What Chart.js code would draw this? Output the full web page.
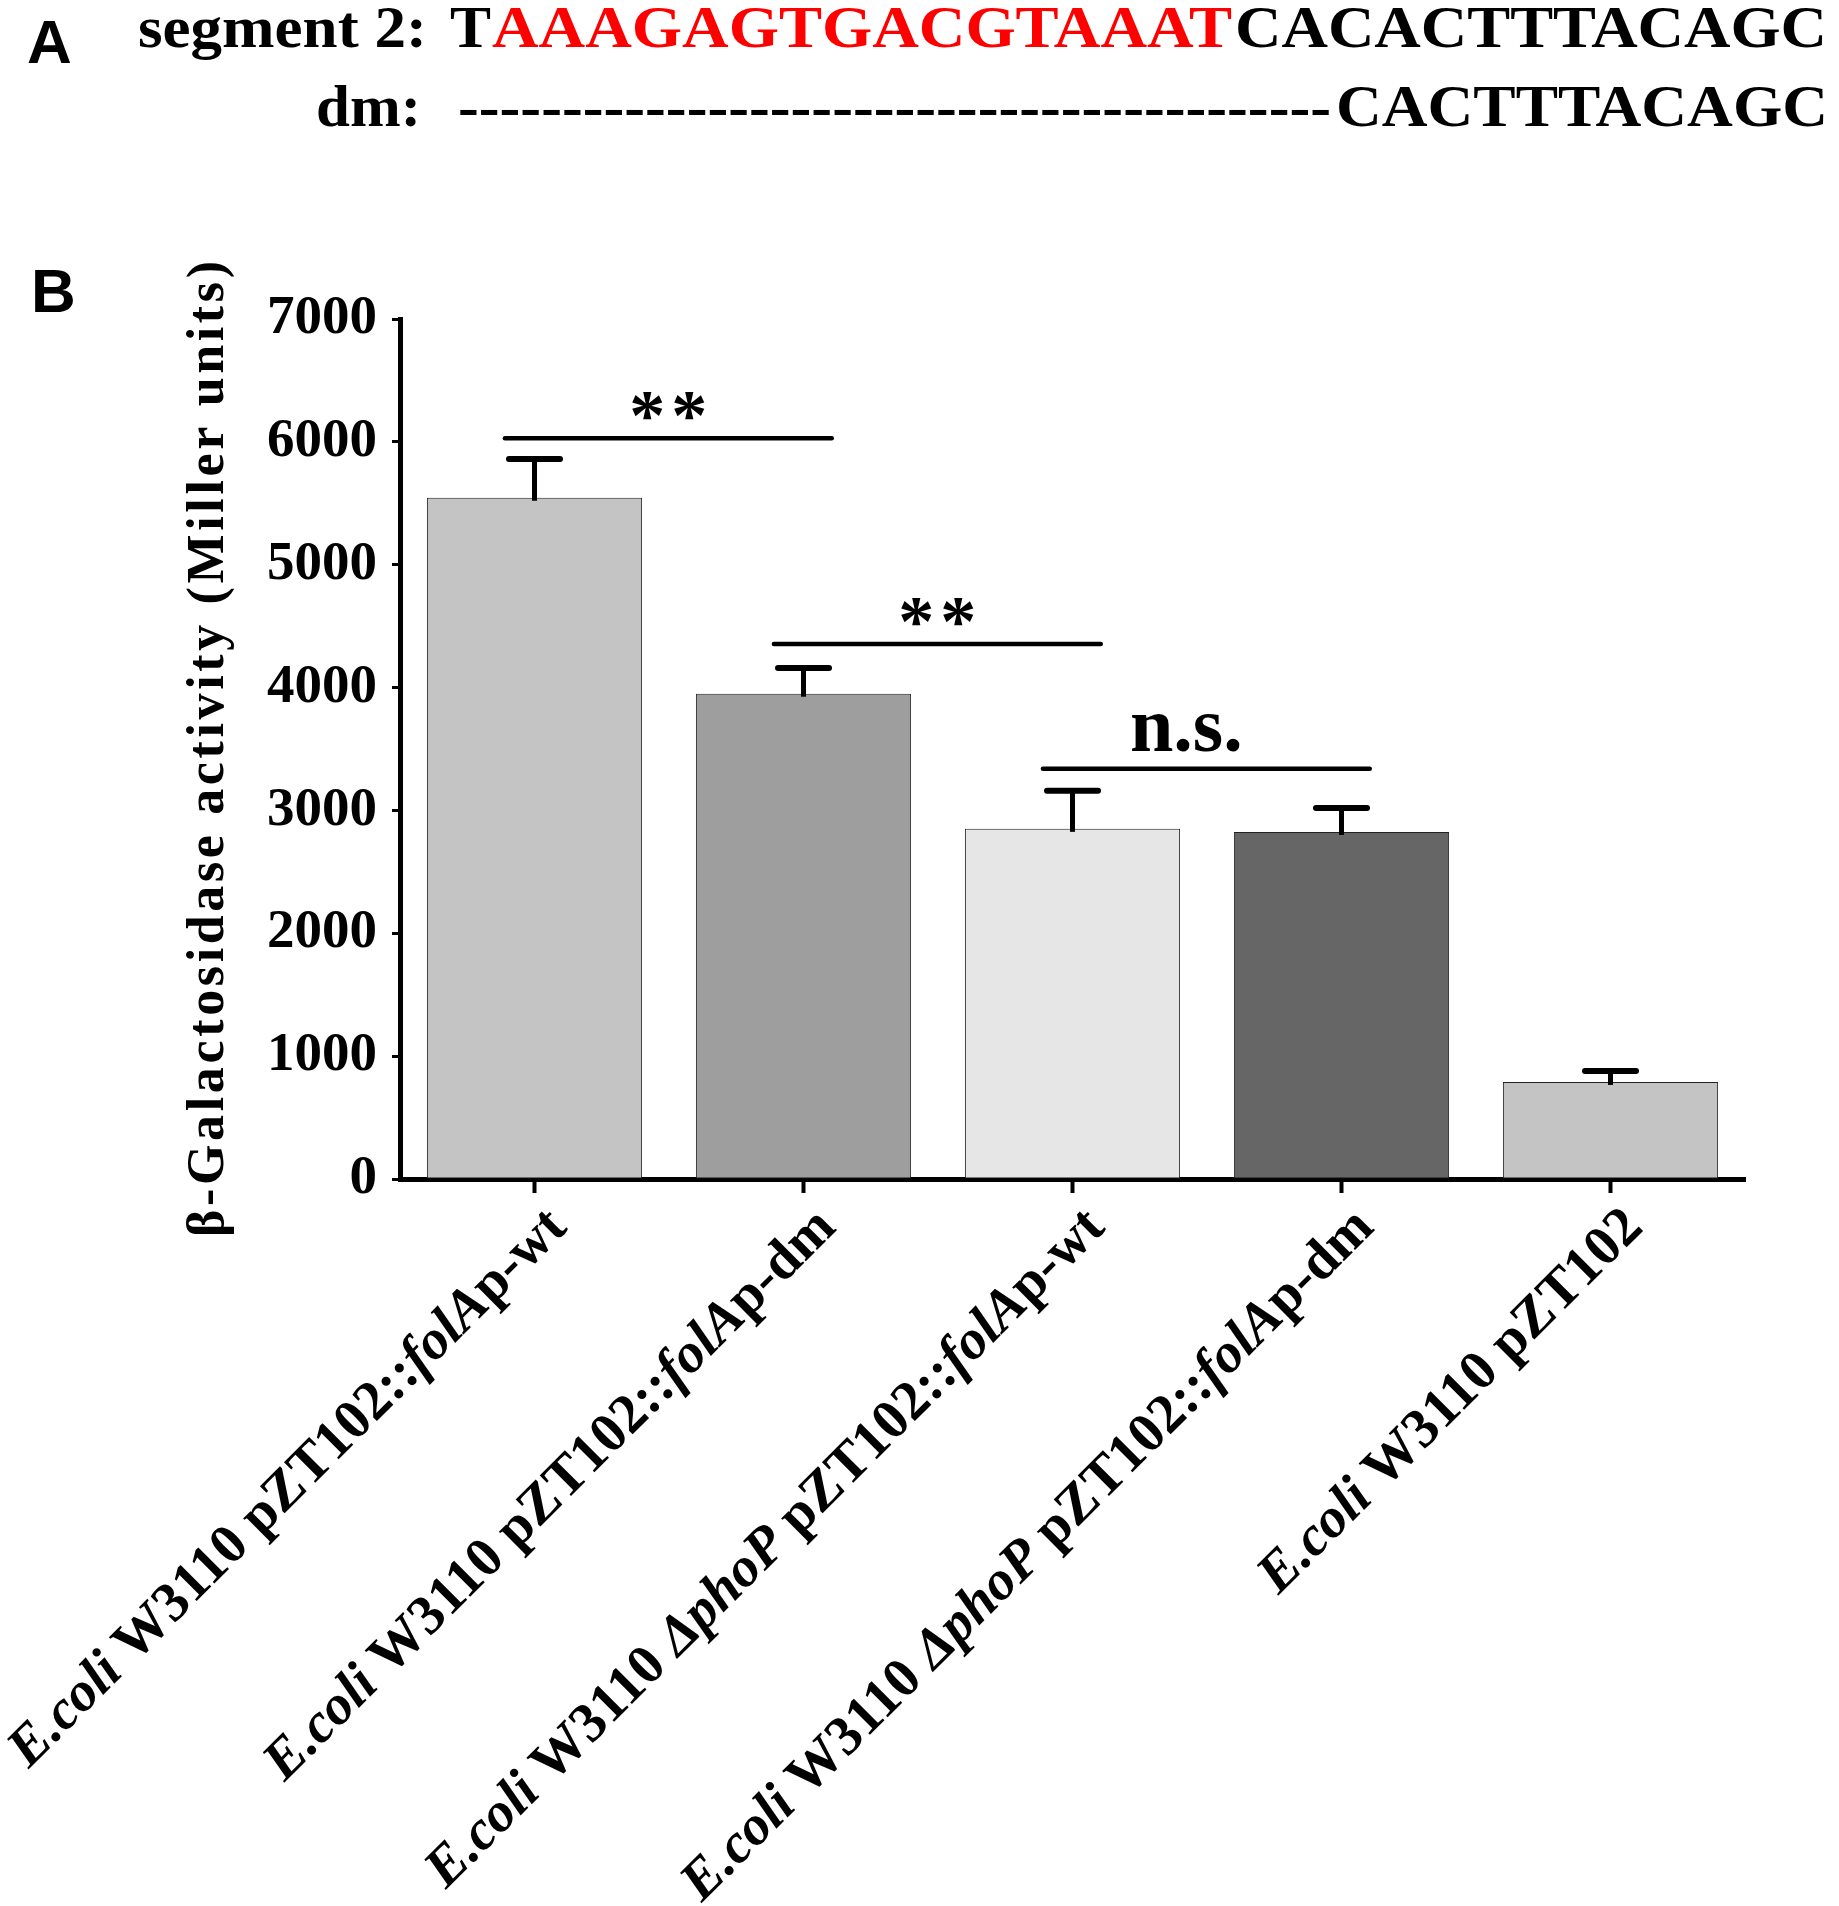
<!DOCTYPE html>
<html><head><meta charset="utf-8">
<script src="https://cdn.jsdelivr.net/npm/chart.js@4.4.1/dist/chart.umd.min.js"></script>
<style>
html,body{margin:0;padding:0;background:#fff;}
#wrap{position:relative;width:1839px;height:1906px;overflow:hidden;background:#fff;}
#c{position:absolute;left:0;top:0;}
.t{position:absolute;white-space:pre;font-family:"Liberation Serif","Times New Roman",serif;font-weight:bold;font-size:60px;line-height:60px;transform-origin:0 0;color:#000;}
.p{position:absolute;font-family:"Liberation Sans",Arial,sans-serif;font-weight:bold;font-size:62px;line-height:62px;color:#000;}
</style></head><body>
<div id="wrap">
<canvas id="c" width="1839" height="1906"></canvas>
<div class="p" style="left:27px;top:11px">A</div>
<div class="p" style="left:31px;top:260px">B</div>
</div>
<script>
// ---- data ----
const categories = [
  "E.coli W3110 pZT102::folAp-wt",
  "E.coli W3110 pZT102::folAp-dm",
  "E.coli W3110 ΔphoP pZT102::folAp-wt",
  "E.coli W3110 ΔphoP pZT102::folAp-dm",
  "E.coli W3110 pZT102"
];
const activity = [5545, 3950, 2850, 2825, 790];
const errorSEM = [315, 210, 310, 195, 90];
const barColors = ["#c4c4c4", "#9e9e9e", "#e6e6e6", "#666666", "#c4c4c4"];
const yMin = 0, yMax = 7000, yStep = 1000;
const comparisons = [[0, 1], [1, 2], [2, 3]];
const comparisonLabels = ["**", "**", "n.s."];
const comparisonLevels = [6030, 4355, 3340];
const italicWords = /(E\.coli|ΔphoP|folA)/;
const yTitle = "β-Galactosidase activity (Miller units)";
const seqLabelWT = "segment 2:";
const seqWT = ["T", "AAAGAGTGACGTAAAT", "CACACTTTACAGC"];
const seqLabelDM = "dm:";
const seqDM = ["-".repeat(42), "CACTTTACAGC"];

// ---- header (panel A) ----
const wrap = document.getElementById('wrap');
const headerPieces = [
  [seqLabelWT, 138, 427, 47, '#000'],
  [seqWT[0], 450, 491, 47, '#000'],
  [seqWT[1], 492, 1232, 47, '#ff0000'],
  [seqWT[2], 1235, 1827, 47, '#000'],
  [seqLabelDM, 316, 421, 126, '#000'],
  [seqDM[0], 458, 1331, 126, '#000'],
  [seqDM[1], 1336, 1828, 126, '#000']
];
const spans = headerPieces.map(p => {
  const s = document.createElement('span');
  s.className = 't';
  s.textContent = p[0];
  s.style.color = p[4];
  s.style.left = p[1] + 'px';
  s.style.top = (p[3] - 50.25) + 'px';
  wrap.appendChild(s);
  return s;
});
function fitHeader() {
  spans.forEach((s, i) => {
    s.style.transform = 'none';
    const w = s.getBoundingClientRect().width;
    const p = headerPieces[i];
    s.style.transform = 'scaleX(' + ((p[2] - p[1]) / w) + ')';
  });
}
fitHeader();

// ---- plugins ----
const SERIF = '"Liberation Serif", "Times New Roman", serif';
function splitStyled(label) {
  return label.split(italicWords).filter(t => t.length).map(t => ({t, it: italicWords.test(t)}));
}
const errorBars = {
  id: 'errorBars',
  afterDatasetsDraw(chart) {
    const ctx = chart.ctx, ys = chart.scales.y;
    const meta = chart.getDatasetMeta(0);
    ctx.save();
    ctx.strokeStyle = '#000';
    meta.data.forEach((bar, i) => {
      const x = bar.x;
      const y0 = ys.getPixelForValue(activity[i]);
      const y1 = ys.getPixelForValue(activity[i] + errorSEM[i]);
      ctx.lineWidth = 5; ctx.lineCap = 'butt';
      ctx.beginPath(); ctx.moveTo(x, y0 + 3); ctx.lineTo(x, y1); ctx.stroke();
      ctx.lineWidth = 6; ctx.lineCap = 'round';
      ctx.beginPath(); ctx.moveTo(x - 25.5, y1); ctx.lineTo(x + 25.5, y1); ctx.stroke();
    });
    ctx.restore();
  }
};
const brackets = {
  id: 'brackets',
  afterDatasetsDraw(chart) {
    const ctx = chart.ctx, xs = chart.scales.x, ys = chart.scales.y;
    const step = xs.getPixelForValue(1) - xs.getPixelForValue(0);
    ctx.save();
    ctx.strokeStyle = '#000'; ctx.fillStyle = '#000';
    comparisons.forEach((pair, k) => {
      const xa = xs.getPixelForValue(pair[0]) - 0.11 * step;
      const xb = xs.getPixelForValue(pair[1]) + 0.105 * step;
      const y = ys.getPixelForValue(comparisonLevels[k]);
      ctx.lineWidth = 4.5; ctx.lineCap = 'round';
      ctx.beginPath(); ctx.moveTo(xa, y); ctx.lineTo(xb, y); ctx.stroke();
      const cx = (xa + xb) / 2;
      const lab = comparisonLabels[k];
      ctx.textAlign = 'center'; ctx.textBaseline = 'alphabetic';
      if (lab === '**') {
        ctx.font = 'bold 72px ' + SERIF;
        const m = ctx.measureText('*');
        const cy = y - 32;
        const by = cy + (m.actualBoundingBoxAscent - m.actualBoundingBoxDescent) / 2;
        ctx.fillText('*', cx - 21, by);
        ctx.fillText('*', cx + 21, by);
      } else {
        ctx.font = 'bold 78px ' + SERIF;
        ctx.fillText(lab, cx - 20, y - 18);
      }
    });
    ctx.restore();
  }
};
const yAxisTitle = {
  id: 'yAxisTitle',
  afterDraw(chart) {
    const ctx = chart.ctx, area = chart.chartArea;
    const targetLen = 976;
    ctx.save();
    ctx.fillStyle = '#000';
    ctx.font = 'bold 52px ' + SERIF;
    ctx.textBaseline = 'middle'; ctx.textAlign = 'left';
    const chars = Array.from(yTitle);
    const ws = chars.map(c => ctx.measureText(c).width);
    const natural = ws.reduce((a, b) => a + b, 0);
    const gap = (targetLen - natural) / (chars.length - 1);
    ctx.translate(210, (area.top + area.bottom) / 2);
    ctx.rotate(-Math.PI / 2);
    let x = -targetLen / 2;
    chars.forEach((c, i) => { ctx.fillText(c, x, 0); x += ws[i] + gap; });
    ctx.restore();
  }
};
const xLabels = {
  id: 'xLabels',
  afterDraw(chart) {
    const ctx = chart.ctx, xs = chart.scales.x, base = chart.chartArea.bottom;
    ctx.save();
    ctx.fillStyle = '#000'; ctx.textBaseline = 'middle'; ctx.textAlign = 'left';
    categories.forEach((lab, i) => {
      const segs = splitStyled(lab);
      const fonts = segs.map(s => (s.it ? 'italic ' : '') + 'bold 56px ' + SERIF);
      const widths = segs.map((s, k) => { ctx.font = fonts[k]; return ctx.measureText(s.t).width; });
      const total = widths.reduce((a, b) => a + b, 0);
      ctx.save();
      ctx.translate(xs.getPixelForValue(i) + 24, base + 40);
      ctx.rotate(-Math.PI / 4);
      let x = -total;
      segs.forEach((s, k) => { ctx.font = fonts[k]; ctx.fillText(s.t, x, 0); x += widths[k]; });
      ctx.restore();
    });
    ctx.restore();
  }
};

// ---- chart ----
new Chart(document.getElementById('c'), {
  type: 'bar',
  data: {
    labels: categories,
    datasets: [{
      data: activity,
      backgroundColor: barColors,
      borderColor: '#222',
      borderWidth: 1,
      borderSkipped: false,
      barPercentage: 0.8,
      categoryPercentage: 1.0
    }]
  },
  options: {
    responsive: false,
    animation: false,
    devicePixelRatio: 1,
    layout: {padding: {top: 319, right: 94, bottom: 0, left: 0}},
    plugins: {legend: {display: false}, tooltip: {enabled: false}, title: {display: false}},
    scales: {
      x: {
        offset: true,
        grid: {display: true, drawOnChartArea: false, drawTicks: true, tickLength: 14, tickWidth: 4, tickColor: '#000', offset: false},
        border: {display: true, color: '#000', width: 5},
        ticks: {display: false},
        afterFit(s) { s.height = 727; }
      },
      y: {
        min: yMin, max: yMax,
        ticks: {stepSize: yStep, color: '#000', padding: 15, font: {family: SERIF, weight: 'bold', size: 55},
                callback: v => String(v)},
        grid: {display: true, drawOnChartArea: false, drawTicks: true, tickLength: 8, tickWidth: 3, tickColor: '#000'},
        border: {display: true, color: '#000', width: 5},
        title: {display: false},
        afterFit(s) { s.width = 400; }
      }
    }
  },
  plugins: [errorBars, brackets, yAxisTitle, xLabels]
});
if (document.fonts && document.fonts.ready) document.fonts.ready.then(fitHeader);
</script>
</body></html>
